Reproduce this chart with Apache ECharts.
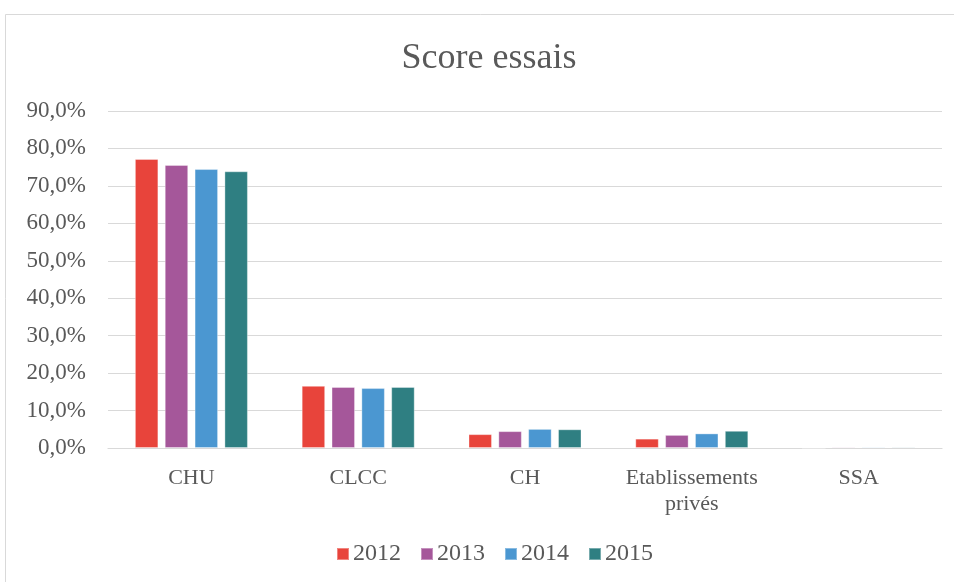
<!DOCTYPE html>
<html>
<head>
<meta charset="utf-8">
<title>Score essais</title>
<script src="https://cdn.jsdelivr.net/npm/echarts@6/dist/echarts.min.js"></script>
<style>
  html, body { margin: 0; padding: 0; background: #ffffff; }
  #chart { width: 954px; height: 582px; }
</style>
</head>
<body>
<div id="chart"></div>
<script>
// Établissement types and yearly scores (percent)
const categories = ['CHU', 'CLCC', 'CH', 'Etablissements\nprivés', 'SSA'];
const years = ['2012', '2013', '2014', '2015'];
const score2012 = [77.2, 16.6, 3.7, 2.5, 0.0];
const score2013 = [75.6, 16.3, 4.5, 3.5, 0.3];
const score2014 = [74.5, 16.0, 5.1, 3.9, 0.3];
const score2015 = [73.9, 16.3, 5.0, 4.6, 0.3];
const yearColors = ['#E8443B', '#A5579A', '#4B97D1', '#2F7F82'];

const seriesValues = [score2012, score2013, score2014, score2015];
const font = '"Liberation Serif", "Times New Roman", serif';
const textColor = '#595959';

const chart = echarts.init(document.getElementById('chart'), null, { renderer: 'canvas' });

chart.setOption({
  animation: false,
  backgroundColor: '#ffffff',
  textStyle: { fontFamily: font, color: textColor },
  graphic: [
    {
      type: 'rect',
      shape: { x: 5.5, y: 14.5, width: 1000, height: 1000 },
      style: { fill: 'none', stroke: '#d9d9d9', lineWidth: 1 },
      silent: true
    },
    {
      type: 'text',
      x: 489,
      y: 41,
      style: {
        text: 'Score essais',
        fontFamily: font,
        fontSize: 36,
        fill: textColor,
        textAlign: 'center',
        textVerticalAlign: 'top'
      },
      silent: true
    }
  ],
  legend: {
    bottom: 11,
    left: 331,
    itemWidth: 12,
    itemHeight: 12,
    itemGap: 19,
    icon: 'rect',
    data: years,
    textStyle: { fontFamily: font, fontSize: 24, color: textColor, padding: [0, 0, 0, -1] }
  },
  grid: { left: 108, right: 12, top: 111, bottom: 134, containLabel: false },
  xAxis: {
    type: 'category',
    data: categories,
    axisLine: { lineStyle: { color: '#d9d9d9', width: 1.2 } },
    axisTick: { show: false },
    axisLabel: { fontFamily: font, fontSize: 22, color: textColor, margin: 17, lineHeight: 26, interval: 0 }
  },
  yAxis: {
    type: 'value',
    min: 0,
    max: 90,
    interval: 10,
    axisLine: { show: false },
    axisTick: { show: false },
    splitLine: { lineStyle: { color: '#d9d9d9', width: 1.2 } },
    axisLabel: {
      fontFamily: font, fontSize: 23, color: textColor, margin: 22,
      formatter: v => v.toFixed(1).replace('.', ',') + '%'
    }
  },
  series: years.map((y, i) => ({
    name: y,
    type: 'bar',
    data: seriesValues[i],
    barWidth: 23.5,
    barGap: '27%',
    itemStyle: { color: yearColors[i], borderColor: 'rgba(255,255,255,0.35)', borderWidth: 1 }
  }))
});
</script>
</body>
</html>
